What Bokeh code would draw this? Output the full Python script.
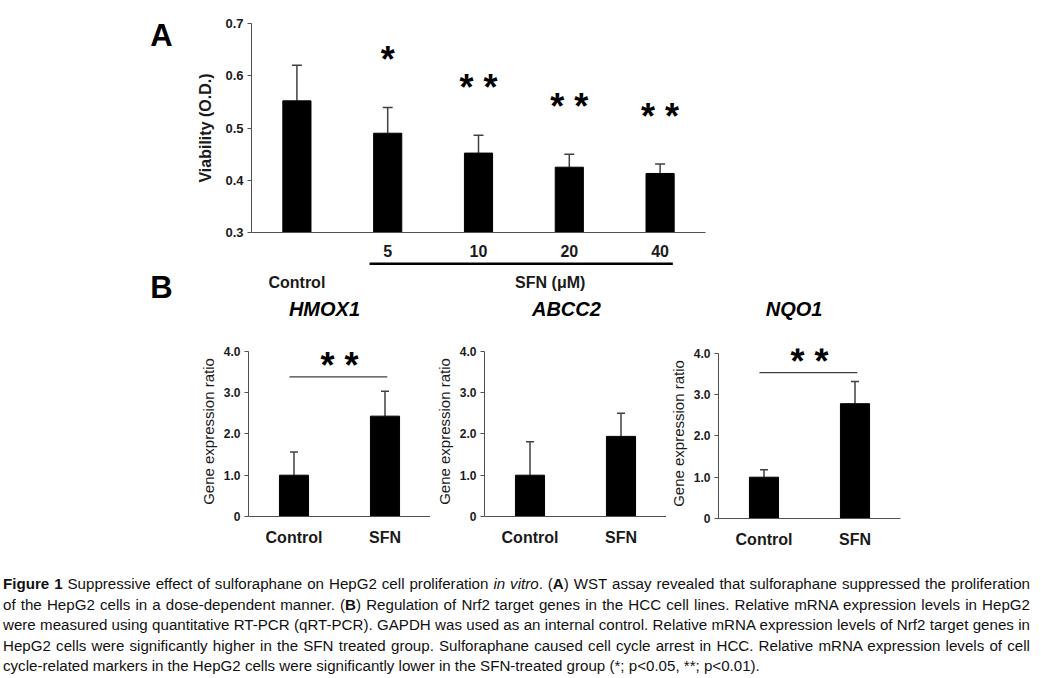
from bokeh.plotting import figure
from bokeh.models import Range1d, FixedTicker, Whisker, ColumnDataSource, Div, TeeHead, NumeralTickFormatter
from bokeh.layouts import column, row
from bokeh.embed import file_html
from bokeh.resources import INLINE
from bokeh.core.properties import value

# ---------------- data ----------------
# Panel A: WST viability
a_groups = ["Control", "5", "10", "20", "40"]
a_viability = [0.552, 0.490, 0.452, 0.425, 0.413]
a_sd = [0.068, 0.049, 0.034, 0.025, 0.018]
a_stars = ["", "*", "* *", "* *", "* *"]
a_yticks = [0.3, 0.4, 0.5, 0.6, 0.7]
a_group_labels = ["Control", "SFN (μM)"]

# Panel B: gene expression ratio
gene_groups = ["Control", "SFN"]
gene_yticks = [0, 1, 2, 3, 4]
hmox1_ratio = [1.00, 2.43]
hmox1_sd = [0.56, 0.60]
hmox1_sig = 3.38
abcc2_ratio = [1.00, 1.94]
abcc2_sd = [0.81, 0.56]
abcc2_sig = None
nqo1_ratio = [1.00, 2.78]
nqo1_sd = [0.18, 0.54]
nqo1_sig = 3.53

caption_lines = [
    '<b>Figure 1</b> Suppressive effect of sulforaphane on HepG2 cell proliferation <i>in vitro</i>. (<b>A</b>) WST assay revealed that sulforaphane suppressed the proliferation',
    'of the HepG2 cells in a dose-dependent manner. (<b>B</b>) Regulation of Nrf2 target genes in the HCC cell lines. Relative mRNA expression levels in HepG2',
    'were measured using quantitative RT-PCR (qRT-PCR). GAPDH was used as an internal control. Relative mRNA expression levels of Nrf2 target genes in',
    'HepG2 cells were significantly higher in the SFN treated group. Sulforaphane caused cell cycle arrest in HCC. Relative mRNA expression levels of cell',
    'cycle-related markers in the HepG2 cells were significantly lower in the SFN-treated group (*; p&lt;0.05, **; p&lt;0.01).',
]

FONT = "Liberation Sans"
AXIS_COLOR = "#505050"
BASE_FIX = 0.37  # svg alphabetic baseline correction (fraction of font size)


def clean(p):
    p.outline_line_color = None
    p.xgrid.visible = False
    p.ygrid.visible = False
    p.background_fill_color = "white"
    p.border_fill_color = "white"


def style_axis(ax, size, bold=True):
    ax.axis_line_color = AXIS_COLOR
    ax.major_tick_line_color = AXIS_COLOR
    ax.minor_tick_line_color = None
    ax.major_tick_in = 0
    ax.major_label_text_font = FONT
    ax.major_label_text_font_style = "bold" if bold else "normal"
    ax.major_label_text_font_size = "%dpx" % size
    ax.major_label_text_color = "#1a1a1a"


# ---------------- letters ----------------
LET_H = 560
pl = figure(frame_width=188, frame_height=LET_H, x_range=Range1d(0, 188), y_range=Range1d(LET_H, 0),
            output_backend="svg", toolbar_location=None, min_border=0)
clean(pl)
pl.axis.visible = False
pl.text(x=[161, 161], y=[46.7, 298], text=["A", "B"], text_font=value(FONT),
        text_font_style="bold", text_font_size="31px", text_align="center",
        text_baseline="alphabetic", y_offset=-BASE_FIX * 31, text_color="black")

# ---------------- panel A ----------------
pa = figure(frame_width=454, frame_height=209, x_range=Range1d(-0.5, 4.5),
            y_range=Range1d(0.3, 0.7), output_backend="svg", toolbar_location=None,
            min_border_left=63, min_border_right=20, min_border_top=23, min_border_bottom=26)
clean(pa)
xa = pa.xaxis[0]
style_axis(xa, 16)
a_x = list(range(len(a_groups)))
xa.ticker = FixedTicker(ticks=a_x[1:])
xa.major_label_overrides = {i: a_groups[i] for i in a_x[1:]}
xa.major_tick_out = 0
xa.major_tick_line_color = None
xa.major_label_standoff = 12
ya = pa.yaxis[0]
style_axis(ya, 13)
ya.ticker = FixedTicker(ticks=a_yticks)
ya.major_tick_out = 4
ya.major_label_standoff = 4
ya.axis_label = "Viability (O.D.)"
ya.axis_label_text_font = FONT
ya.axis_label_text_font_style = "bold"
ya.axis_label_text_font_size = "16px"
ya.axis_label_text_color = "#1a1a1a"
ya.axis_label_standoff = 8

a_upper = [v + s for v, s in zip(a_viability, a_sd)]
src_a = ColumnDataSource(dict(x=a_x, top=a_viability, upper=a_upper, star=a_stars))
pa.vbar(x="x", top="top", bottom=0.3, width=0.31, source=src_a, fill_color="black", line_color="black")
pa.add_layout(Whisker(base="x", lower="top", upper="upper", source=src_a, line_color="#404040",
                      line_width=1.5, lower_head=None,
                      upper_head=TeeHead(size=10, line_color="#404040", line_width=1.5)))
pa.text(x="x", y="upper", text="star", source=src_a, text_font=value(FONT), text_font_style="bold",
        text_font_size="36px", text_align="center", text_baseline="alphabetic", y_offset=-48,
        text_color="black")

# strip under panel A: dose bracket and group labels (shares x scale)
UNDER_H = 38
pu = figure(frame_width=454, frame_height=UNDER_H, x_range=pa.x_range, y_range=Range1d(UNDER_H, 0),
            output_backend="svg", toolbar_location=None,
            min_border_left=63, min_border_right=20, min_border_top=0, min_border_bottom=0)
clean(pu)
pu.axis.visible = False
pu.segment(x0=[a_x[1] - 0.2], x1=[a_x[-1] + 0.14], y0=[4.3], y1=[4.3], line_color="black", line_width=2.5)
pu.text(x=[a_x[0], sum(a_x[1:]) / 4 + 0.29], y=[29.4, 29.4], text=a_group_labels,
        text_font=value(FONT), text_font_style="bold", text_font_size="16px", text_align="center",
        text_baseline="alphabetic", y_offset=-BASE_FIX * 16, text_color="#1a1a1a")

# ---------------- panel B ----------------
G_PX = 41.3
G_FH = 170
TITLE_H = 40


def gene_panel(name, ratio, sd, sig, title_x, left, right, top, bottom):
    xr = Range1d(-0.5, 1.5)
    # title strip sharing the panel's x scale
    pt = figure(frame_width=182, frame_height=TITLE_H, x_range=xr, y_range=Range1d(TITLE_H, 0),
                output_backend="svg", toolbar_location=None,
                min_border_left=left, min_border_right=right, min_border_top=0, min_border_bottom=0)
    clean(pt)
    pt.axis.visible = False
    pt.text(x=[title_x], y=[19], text=[name], text_font=value(FONT), text_font_style="bold italic",
            text_font_size="20px", text_align="center", text_baseline="alphabetic",
            y_offset=-BASE_FIX * 20, text_color="black")

    p = figure(frame_width=182, frame_height=G_FH, x_range=xr,
               y_range=Range1d(0, G_FH / G_PX), output_backend="svg", toolbar_location=None,
               min_border_left=left, min_border_right=right, min_border_top=top, min_border_bottom=bottom)
    clean(p)
    xg = p.xaxis[0]
    style_axis(xg, 16)
    xg.ticker = FixedTicker(ticks=[0, 1])
    xg.major_label_overrides = {0: gene_groups[0], 1: gene_groups[1]}
    xg.major_tick_line_color = None
    xg.major_tick_out = 0
    xg.major_label_standoff = 12
    yg = p.yaxis[0]
    style_axis(yg, 12)
    yg.ticker = FixedTicker(ticks=gene_yticks)
    yg.bounds = (0, 4)
    yg.formatter = NumeralTickFormatter(format="0.0")
    yg.major_label_overrides = {0: "0"}
    yg.major_tick_out = 4
    yg.major_label_standoff = 4
    yg.axis_label = "Gene expression ratio"
    yg.axis_label_text_font = FONT
    yg.axis_label_text_font_style = "normal"
    yg.axis_label_text_font_size = "15px"
    yg.axis_label_text_color = "#1a1a1a"
    yg.axis_label_standoff = 4

    gx = list(range(len(gene_groups)))
    up = [r + s for r, s in zip(ratio, sd)]
    src = ColumnDataSource(dict(x=gx, top=ratio, upper=up))
    p.vbar(x="x", top="top", bottom=0, width=0.32, source=src, fill_color="black", line_color="black")
    p.add_layout(Whisker(base="x", lower="top", upper="upper", source=src, line_color="#404040",
                         line_width=1.5, lower_head=None,
                         upper_head=TeeHead(size=8, line_color="#404040", line_width=1.5)))
    if sig is not None:
        p.segment(x0=[gx[0] - 0.05], x1=[gx[1] + 0.025], y0=[sig], y1=[sig], line_color="#404040", line_width=1.2)
        p.text(x=[(gx[0] + gx[1]) / 2], y=[sig], text=["* *"], text_font=value(FONT), text_font_style="bold",
               text_font_size="36px", text_align="center", text_baseline="alphabetic", y_offset=-11,
               text_color="black")
    return column(pt, p)


g1 = gene_panel("HMOX1", hmox1_ratio, hmox1_sd, hmox1_sig, 0.335, 60, 0, 9, 45)
g2 = gene_panel("ABCC2", abcc2_ratio, abcc2_sd, abcc2_sig, 0.40, 54, 0, 9, 45)
g3 = gene_panel("NQO1", nqo1_ratio, nqo1_sd, nqo1_sig, 0.33, 52, 20, 11, 43)

SCALE = 0.975
inner_w = 1027 / SCALE
line_style = ("width:%.1fpx;transform:scaleX(%.3f);transform-origin:0 0;white-space:nowrap;" % (inner_w, SCALE))
line_html = "".join(
    '<div style="%stext-align:justify;text-align-last:justify;">%s</div>' % (line_style, t) for t in caption_lines[:-1]
) + '<div style="%stext-align:left;">%s</div>' % (line_style, caption_lines[-1])
caption = Div(text=line_html, width=1027, margin=(13, 0, 0, 3),
              styles={"font-family": "'Liberation Sans', Arial, sans-serif",
                      "font-size": "15.5px", "line-height": "20.5px", "color": "#111111"})

layout = column(row(pl, column(pa, pu, row(g1, g2, g3))), caption)

with open("out.html", "w") as f:
    f.write(file_html(layout, INLINE))
